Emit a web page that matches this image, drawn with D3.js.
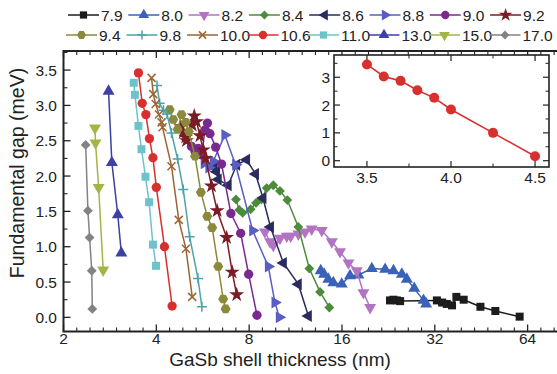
<!DOCTYPE html>
<html><head><meta charset="utf-8">
<script src="https://cdn.jsdelivr.net/npm/d3@7"></script>
<style>body{margin:0;background:#fff}svg{display:block;font-family:"Liberation Sans",Arial,sans-serif}</style>
</head><body><svg id="c" width="557" height="374"></svg>
<script>
// ---------- data ----------
const labels = ["7.9","8.0","8.2","8.4","8.6","8.8","9.0","9.2","9.4","9.8","10.0","10.6","11.0","13.0","15.0","17.0"];

const x_7_9 = [22.9,23.5,24.1,24.7,32.5,33.8,35.0,36.4,37.6,39.7,45.0,50.3,60.3];
const y_7_9 = [0.24,0.25,0.24,0.23,0.24,0.21,0.19,0.17,0.29,0.25,0.15,0.09,0.01];
const x_8_0 = [13.65,14.0,14.45,15.0,15.97,16.99,18.09,19.99,22.08,23.5,25.02,25.97,27.44,29.41,30.0];
const y_8_0 = [0.66,0.61,0.54,0.49,0.47,0.59,0.60,0.69,0.68,0.66,0.61,0.54,0.41,0.24,0.19];
const x_8_2 = [9.00,9.35,9.58,10.07,10.59,10.91,11.55,12.14,12.76,13.76,14.83,15.77,16.79,17.87,18.78,19.74];
const y_8_2 = [1.21,1.07,1.02,1.12,1.15,1.15,1.18,1.21,1.25,1.23,1.07,0.93,0.77,0.66,0.35,0.14];
const x_8_4 = [7.25,7.43,7.62,8.09,8.42,8.78,9.12,9.58,10.07,10.64,11.55,12.54,13.58,14.56];
const y_8_4 = [1.67,1.52,1.48,1.53,1.62,1.67,1.83,1.87,1.79,1.66,1.28,0.69,0.36,0.14];
const x_8_6 = [6.16,6.27,6.35,6.84,7.29,7.85,8.39,8.87,9.38,10.33,11.55,12.45];
const y_8_6 = [2.13,2.06,1.95,1.87,2.16,2.23,2.03,1.69,1.28,0.77,0.47,0.02];
const x_8_8 = [5.72,5.92,6.12,6.67,7.23,8.21,9.23,9.70,10.02];
const y_8_8 = [2.18,2.12,2.21,2.58,2.16,1.23,0.72,0.21,0.00];
const x_9_0 = [5.20,5.34,5.47,5.61,5.75,5.86,5.97,6.23,6.51,6.98,7.51,7.97,8.48];
const y_9_0 = [2.42,2.35,2.39,2.30,2.65,2.75,2.60,2.41,2.17,1.47,1.19,0.61,0.03];
const x_9_2 = [4.80,4.89,4.98,5.01,5.23,5.31,5.40,5.54,5.68,5.78,6.04,6.30,6.76,7.05,7.29];
const y_9_2 = [2.70,2.62,2.55,2.50,2.72,2.85,2.77,2.57,2.37,2.25,1.86,1.51,1.13,0.64,0.32];
const x_9_4 = [4.42,4.54,4.69,4.83,4.98,5.10,5.34,5.58,5.85,6.07,6.35,6.59,6.71];
const y_9_4 = [2.94,2.80,2.66,2.87,2.76,2.63,2.28,1.77,1.43,1.27,0.72,0.26,0.12];
const x_9_8 = [4.02,4.10,4.22,4.33,4.48,4.69,4.89,5.13,5.46,5.62];
const y_9_8 = [3.28,3.03,2.93,2.88,2.61,2.24,1.81,1.14,0.55,0.15];
const x_10_0 = [3.86,3.91,3.98,4.08,4.16,4.19,4.48,4.73,4.99,5.23];
const y_10_0 = [3.39,3.16,3.02,2.87,2.76,2.69,2.14,1.38,0.97,0.29];
const x_10_6 = [3.5,3.6,3.7,3.8,3.9,4.0,4.25,4.5];
const y_10_6 = [3.46,3.03,2.87,2.53,2.26,1.84,1.00,0.16];
const x_11_0 = [3.38,3.41,3.50,3.58,3.69,3.79,3.90,3.99];
const y_11_0 = [3.32,3.15,2.71,2.38,1.99,1.63,1.03,0.73];
const x_13_0 = [2.80,2.87,3.00,3.08];
const y_13_0 = [3.20,2.19,1.45,0.91];
const x_15_0 = [2.53,2.54,2.60,2.69];
const y_15_0 = [2.68,2.47,1.84,0.67];
const x_17_0 = [2.36,2.40,2.43,2.47,2.48];
const y_17_0 = [2.44,1.51,1.13,0.66,0.12];

const insetX = [3.5,3.6,3.7,3.8,3.9,4.0,4.25,4.5];
const insetY = [3.46,3.03,2.87,2.53,2.26,1.84,1.00,0.16];

const xTicks = [2,4,8,16,32,64];
const yTicks = [0,0.5,1,1.5,2,2.5,3,3.5];
const insetXTicks = [3.5,4.0,4.5];
const insetYTicks = [0,1,2,3];

const xTitle = "GaSb shell thickness (nm)";
const yTitle = "Fundamental gap (meV)";

// ---------- styles ----------
const colors = ["#1c1c1c","#3a62b6","#b274c2","#4b8b3b","#2a2c5f","#5a5ec2","#7a2a8f","#7b1c24","#8a893c","#4ea3a9","#9b6434","#d8302f","#6ec3ca","#3c41a3","#a2b546","#838383"];
const markers = ["square","triUp","triDown","diamond","triLeft","triRight","circle","star","hexagon","plus","cross","circle","square","triUp","triDown","diamond"];
const seriesX = [x_7_9,x_8_0,x_8_2,x_8_4,x_8_6,x_8_8,x_9_0,x_9_2,x_9_4,x_9_8,x_10_0,x_10_6,x_11_0,x_13_0,x_15_0,x_17_0];
const seriesY = [y_7_9,y_8_0,y_8_2,y_8_4,y_8_6,y_8_8,y_9_0,y_9_2,y_9_4,y_9_8,y_10_0,y_10_6,y_11_0,y_13_0,y_15_0,y_17_0];
const series = labels.map((l,i)=>({label:l,color:colors[i],marker:markers[i],pts:seriesX[i].map((x,j)=>({x, y:seriesY[i][j]}))}));

const svg = d3.select("#c");
const axisColor = "#222";

const L = 63.5, R = 557.5, T = 51, B = 331.5;
const x = d3.scaleLog().base(2).domain([2,80]).range([L,R]);
const y = d3.scaleLinear().domain([-0.2,3.77]).range([B,T]);

function drawMarker(sel, type, color, k){
  k = k||1;
  let g;
  const tri = d3.symbol(d3.symbolTriangle, 62*k*k)();
  if(type==="circle"){ g = sel.append("path").attr("d", d3.symbol(d3.symbolCircle, 68*k*k)()).attr("fill",color); }
  else if(type==="square"){ g = sel.append("path").attr("d", d3.symbol(d3.symbolSquare, 64*k*k)()).attr("fill",color); }
  else if(type==="diamond"){ g = sel.append("path").attr("d", d3.symbol(d3.symbolSquare, 48*k*k)()).attr("transform","rotate(45)").attr("fill",color); }
  else if(type==="triUp"){ g = sel.append("path").attr("d", tri).attr("fill",color); }
  else if(type==="triDown"){ g = sel.append("path").attr("d", tri).attr("transform","rotate(180)").attr("fill",color); }
  else if(type==="triLeft"){ g = sel.append("path").attr("d", tri).attr("transform","rotate(-90)").attr("fill",color); }
  else if(type==="triRight"){ g = sel.append("path").attr("d", tri).attr("transform","rotate(90)").attr("fill",color); }
  else if(type==="star"){ g = sel.append("path").attr("d", d3.symbol(d3.symbolStar, 70*k*k)()).attr("fill",color); }
  else if(type==="hexagon"){
    const r=5*k; const p=d3.range(6).map(i=>[r*Math.cos(Math.PI/3*i), r*Math.sin(Math.PI/3*i)]);
    g = sel.append("path").attr("d","M"+p.map(q=>q.join(",")).join("L")+"Z").attr("fill",color);
  }
  else if(type==="plus"){ const r=5*k; g = sel.append("path").attr("d",`M${-r},0H${r}M0,${-r}V${r}`).attr("stroke",color).attr("stroke-width",1.5).attr("fill","none"); }
  else if(type==="cross"){ const r=4*k; g = sel.append("path").attr("d",`M${-r},${-r}L${r},${r}M${-r},${r}L${r},${-r}`).attr("stroke",color).attr("stroke-width",1.5).attr("fill","none"); }
  return g;
}

// ---------- series ----------
const line = d3.line().x(d=>x(d.x)).y(d=>y(d.y));
const plot = svg.append("g");
series.forEach(s=>{
  const g = plot.append("g");
  g.append("path").datum(s.pts).attr("d",line).attr("fill","none").attr("stroke",s.color).attr("stroke-width",1.5);
  g.selectAll("g.m").data(s.pts).enter().append("g").attr("class","m")
    .attr("transform",d=>`translate(${x(d.x)},${y(d.y)})`)
    .each(function(){ drawMarker(d3.select(this), s.marker, s.color, 1); });
});

// ---------- main axes ----------
const ax = svg.append("g").attr("stroke",axisColor).attr("fill","none");
const xMinor = [];
for(let o=1;o<=6;o++){ for(let k=1;k<7;k++){ const v=Math.pow(2,o+k/7); if(v<80) xMinor.push(v);} }
[B,T].forEach((yy,side)=>{
  const dir = side===0 ? -1 : 1;
  xTicks.forEach(v=>ax.append("line").attr("x1",x(v)).attr("x2",x(v)).attr("y1",yy).attr("y2",yy+dir*7).attr("stroke-width",1.3));
  xMinor.forEach(v=>ax.append("line").attr("x1",x(v)).attr("x2",x(v)).attr("y1",yy).attr("y2",yy+dir*4).attr("stroke-width",1.1));
});
const yMinor = d3.range(0.25,3.76,0.5);
yTicks.forEach(v=>ax.append("line").attr("x1",L).attr("x2",L+7).attr("y1",y(v)).attr("y2",y(v)).attr("stroke-width",1.3));
yMinor.forEach(v=>ax.append("line").attr("x1",L).attr("x2",L+4).attr("y1",y(v)).attr("y2",y(v)).attr("stroke-width",1.1));
ax.append("path").attr("d",`M${R},${T}H${L}V${B}H${R}`).attr("stroke-width",2);

const txt = svg.append("g").attr("fill","#222").attr("font-size",15.5);
xTicks.forEach(v=>txt.append("text").attr("x",x(v)).attr("y",344).attr("text-anchor","middle").text(v));
yTicks.forEach(v=>txt.append("text").attr("x",57).attr("y",y(v)+5.5).attr("text-anchor","end").text(d3.format(".1f")(v)));
svg.append("text").attr("x",280).attr("y",366).attr("text-anchor","middle").attr("font-size",19).attr("fill","#222").text(xTitle);
svg.append("text").attr("transform","translate(24,173) rotate(-90)").attr("text-anchor","middle").attr("font-size",19.5).attr("fill","#222").text(yTitle);

// ---------- legend ----------
const leg = svg.append("g");
series.forEach((s,i)=>{
  const row = i<8?0:1, col=i%8;
  const lx = row===0 ? 68+col*60.3 : 66+col*60.5;
  const ly = row===0 ? 15 : 35;
  const g = leg.append("g").attr("transform",`translate(${lx},${ly})`);
  g.append("line").attr("x1",0).attr("x2",31).attr("y1",0).attr("y2",0).attr("stroke",s.color).attr("stroke-width",1.5);
  const m = g.append("g").attr("transform","translate(15.5,0)");
  drawMarker(m, s.marker, s.color, 0.9);
  g.append("text").attr("x",33).attr("y",5.5).attr("font-size",15.5).attr("fill","#222").text(s.label);
});

// ---------- inset ----------
const iL=334, iR=549, iT=55, iB=167;
const ix = d3.scaleLinear().domain([3.304,4.583]).range([iL,iR]);
const iy = d3.scaleLinear().domain([-0.227,3.80]).range([iB,iT]);
const ins = svg.append("g");
ins.append("rect").attr("x",iL).attr("y",iT).attr("width",iR-iL).attr("height",iB-iT).attr("fill","#fff");
const iax = ins.append("g").attr("stroke",axisColor);
const ixMinor=[3.75,4.25];
[iB,iT].forEach((yy,side)=>{
  const dir = side===0?-1:1;
  insetXTicks.forEach(v=>iax.append("line").attr("x1",ix(v)).attr("x2",ix(v)).attr("y1",yy).attr("y2",yy+dir*6).attr("stroke-width",1.2));
  ixMinor.forEach(v=>iax.append("line").attr("x1",ix(v)).attr("x2",ix(v)).attr("y1",yy).attr("y2",yy+dir*3.5).attr("stroke-width",1));
});
const iyMinor=[0.5,1.5,2.5,3.5];
[iL,iR].forEach((xx,side)=>{
  const dir = side===0?1:-1;
  insetYTicks.forEach(v=>iax.append("line").attr("x1",xx).attr("x2",xx+dir*6).attr("y1",iy(v)).attr("y2",iy(v)).attr("stroke-width",1.2));
  iyMinor.forEach(v=>iax.append("line").attr("x1",xx).attr("x2",xx+dir*3.5).attr("y1",iy(v)).attr("y2",iy(v)).attr("stroke-width",1));
});
ins.append("rect").attr("x",iL).attr("y",iT).attr("width",iR-iL).attr("height",iB-iT).attr("fill","none").attr("stroke",axisColor).attr("stroke-width",1.6);
const iline = d3.line().x((d,i)=>ix(d)).y((d,i)=>iy(insetY[i]));
ins.append("path").datum(insetX).attr("d",iline).attr("fill","none").attr("stroke","#d8302f").attr("stroke-width",1.6);
insetX.forEach((v,i)=>ins.append("circle").attr("cx",ix(v)).attr("cy",iy(insetY[i])).attr("r",5).attr("fill","#d8302f"));
const itx = ins.append("g").attr("fill","#222").attr("font-size",15.5);
insetXTicks.forEach(v=>itx.append("text").attr("x",ix(v)).attr("y",183).attr("text-anchor","middle").text(d3.format(".1f")(v)));
insetYTicks.forEach(v=>itx.append("text").attr("x",330).attr("y",iy(v)+5.5).attr("text-anchor","end").text(v));
</script></body></html>
